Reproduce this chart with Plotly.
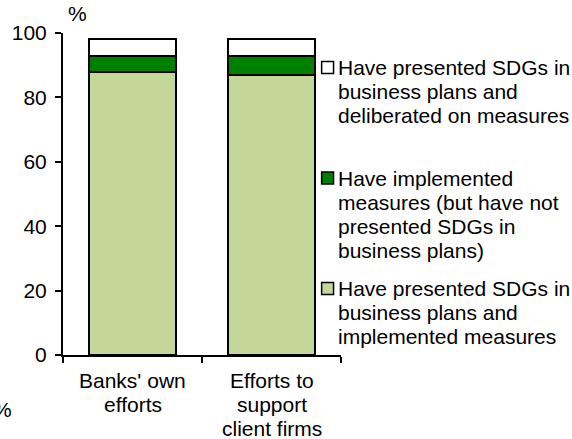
import plotly.graph_objects as go

# Categories and stacked shares (%)
categories = ["Banks' own efforts", "Efforts to support client firms"]
category_lines = [["Banks' own", "efforts"], ["Efforts to", "support", "client firms"]]

series_names = [
    "Have presented SDGs in business plans and implemented measures",
    "Have implemented measures (but have not presented SDGs in business plans)",
    "Have presented SDGs in business plans and deliberated on measures",
]
series_lines = [
    ["Have presented SDGs in", "business plans and", "implemented measures"],
    ["Have implemented", "measures (but have not", "presented SDGs in", "business plans)"],
    ["Have presented SDGs in", "business plans and", "deliberated on measures"],
]
implemented_with_plans = [88, 87]
implemented_only = [5, 6]
deliberated = [5, 5]
series_values = [implemented_with_plans, implemented_only, deliberated]
series_colors = ["#C4D79B", "#008000", "#FFFFFF"]

y_ticks = [0, 20, 40, 60, 80, 100]

W, H = 572, 439
ML, MR, MT, MB = 61, 231, 33, 84
PW, PH = W - ML - MR, H - MT - MB
FONT = "Liberation Sans, Arial, sans-serif"
FS = 21


def px_x(px):
    return (px - ML) / PW


def px_y(py):
    return (H - MB - py) / PH


fig = go.Figure()
for name, vals, color in zip(series_names, series_values, series_colors):
    fig.add_trace(go.Bar(
        x=list(range(len(categories))), y=vals, name=name,
        marker=dict(color=color, line=dict(color="black", width=2)),
        width=0.63, showlegend=False, hovertext=categories,
    ))

annotations = []
shapes = []

# category labels, one line per annotation
for i, lines in enumerate(category_lines):
    for j, line in enumerate(lines):
        annotations.append(dict(
            x=i, xref="x", y=px_y(380 + 24 * j), yref="paper",
            text=line, showarrow=False, xanchor="center", yanchor="middle",
            font=dict(family=FONT, size=FS, color="black"),
        ))

# legend: swatch + wrapped text, listed top-down
legend_centers = [288.5, 178, 67.5]
for lines, color, cy in zip(series_lines, series_colors, legend_centers):
    shapes.append(dict(
        type="rect", xref="paper", yref="paper",
        x0=px_x(321.5), x1=px_x(333.5), y0=px_y(cy + 6), y1=px_y(cy - 6),
        fillcolor=color, line=dict(color="black", width=1.5),
    ))
    for j, line in enumerate(lines):
        annotations.append(dict(
            x=px_x(335.5), xref="paper", y=px_y(cy + 24 * j), yref="paper",
            text=line, showarrow=False, xanchor="left", yanchor="middle",
            font=dict(family=FONT, size=FS, color="black"),
        ))

# unit labels
annotations.append(dict(
    x=px_x(76), xref="paper", y=px_y(13), yref="paper", text="%",
    showarrow=False, xanchor="center", yanchor="middle",
    font=dict(family=FONT, size=FS, color="black"),
))
annotations.append(dict(
    x=px_x(12), xref="paper", y=px_y(409), yref="paper", text="%",
    showarrow=False, xanchor="right", yanchor="middle",
    font=dict(family=FONT, size=FS, color="black"),
))

fig.update_layout(
    width=W, height=H,
    margin=dict(l=ML, r=MR, t=MT, b=MB, pad=0),
    barmode="stack",
    plot_bgcolor="white", paper_bgcolor="white",
    font=dict(family=FONT, size=FS, color="black"),
    showlegend=False,
    annotations=annotations,
    shapes=shapes,
    xaxis=dict(
        range=[-0.5, 1.5], tickmode="array", tickvals=[-0.5, 0.5, 1.5],
        showticklabels=False, ticks="outside", ticklen=6, tickwidth=2,
        tickcolor="black", showline=True, linecolor="black", linewidth=2,
        showgrid=False, zeroline=False,
    ),
    yaxis=dict(
        range=[0, 100], tickvals=y_ticks, ticks="outside", ticklen=6,
        tickwidth=2, tickcolor="black", showline=True, linecolor="black",
        linewidth=2, showgrid=False, zeroline=False, ticklabelstandoff=4,
        tickfont=dict(family=FONT, size=FS, color="black"),
    ),
)

fig.write_html("out.html")
